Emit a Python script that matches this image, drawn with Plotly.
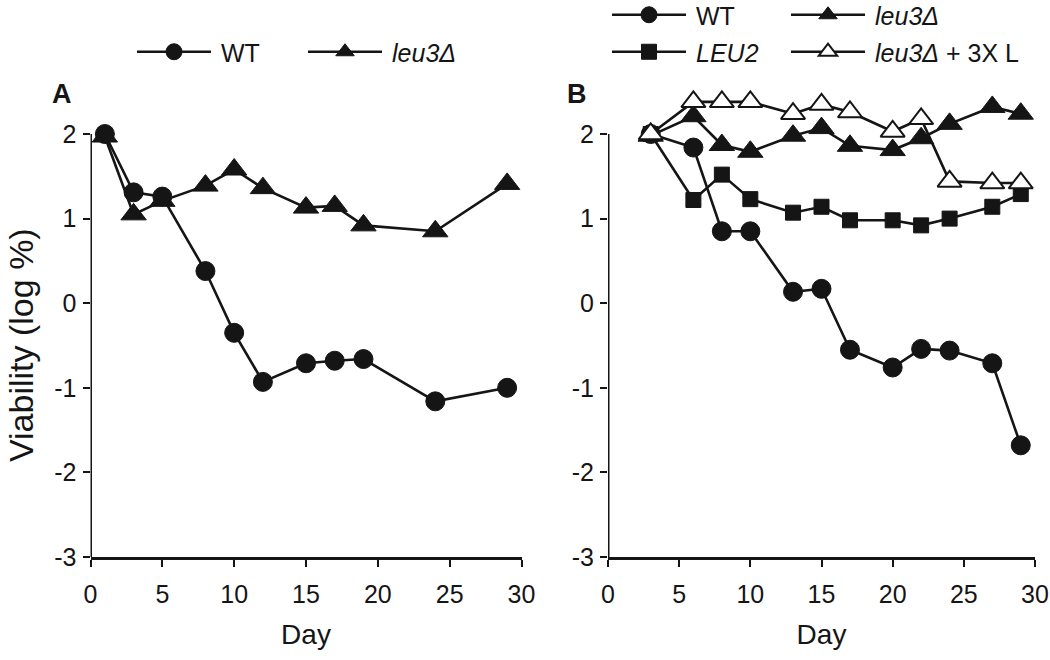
import plotly.graph_objects as go

# panel A
days_a = [1, 3, 5, 8, 10, 12, 15, 17, 19, 24, 29]
wt_a = [2.0, 1.31, 1.26, 0.38, -0.35, -0.93, -0.71, -0.68, -0.66, -1.16, -1.0]
leu3_a = [1.97, 1.05, 1.21, 1.39, 1.58, 1.36, 1.13, 1.15, 0.92, 0.85, 1.41]

# panel B
days_b = [3, 6, 8, 10, 13, 15, 17, 20, 22, 24, 27, 29]
wt_b = [2.0, 1.84, 0.85, 0.85, 0.135, 0.17, -0.55, -0.76, -0.54, -0.56, -0.71, -1.68]
leu3_b = [1.98, 2.21, 1.87, 1.79, 1.98, 2.07, 1.86, 1.81, 1.95, 2.12, 2.32, 2.24]
leu2_b = [2.0, 1.22, 1.52, 1.23, 1.07, 1.14, 0.98, 0.98, 0.92, 1.0, 1.14, 1.29]
leu3_3xl_b = [2.0, 2.38, 2.38, 2.38, 2.24, 2.35, 2.26, 2.03, 2.18, 1.44, 1.42, 1.42]

x_ticks = [0, 5, 10, 15, 20, 25, 30]
y_ticks = [-3, -2, -1, 0, 1, 2]
y_labels = ['-3', '-2', '-1', '0', '1', '2']

INK = '#151515'
FONT = 'Liberation Sans, Arial, sans-serif'
W, H = 1050, 660

# y axis: -3 sits at 557 px, 2 at 134 px; range runs a bit above 2 so that
# markers over 2 stay visible, the axis line itself stops at 2
Y_LO, Y_HI, Y_TOP = -3, 2, 2.5
PX_LO, PX_HI = 557, 134
px_top = PX_LO - (PX_LO - PX_HI) * (Y_TOP - Y_LO) / (Y_HI - Y_LO)


def px_x(p):
    return p / W


def px_y(p):
    return 1 - p / H


def line_trace(x, y, name, symbol, size, fill, xa, ya, legend):
    return go.Scatter(
        x=x, y=y, name='\u2009' + name, mode='lines+markers', xaxis=xa, yaxis=ya,
        legend=legend, showlegend=True, cliponaxis=False,
        line=dict(color=INK, width=2.6),
        marker=dict(symbol=symbol, size=size, color=fill,
                    line=dict(color=INK, width=2 if fill == 'white' else 1)))


fig = go.Figure()
fig.add_trace(line_trace(days_a, wt_a, 'WT', 'circle', 19, INK, 'x', 'y', 'legend'))
fig.add_trace(line_trace(days_a, leu3_a, '<i>leu3Δ</i>', 'triangle-up', 22, INK, 'x', 'y', 'legend2'))

fig.add_trace(line_trace(days_b, wt_b, 'WT', 'circle', 19, INK, 'x2', 'y2', 'legend3'))
fig.add_trace(line_trace(days_b, leu3_b, '<i>leu3Δ</i>', 'triangle-up', 22, INK, 'x2', 'y2', 'legend4'))
fig.add_trace(line_trace(days_b, leu2_b, '<i>LEU2</i>', 'square', 15, INK, 'x2', 'y2', 'legend5'))
fig.add_trace(line_trace(days_b, leu3_3xl_b, '<i>leu3Δ</i> + 3X L', 'triangle-up', 21, 'white',
                         'x2', 'y2', 'legend6'))

axis_common = dict(linecolor=INK, linewidth=3, ticks='outside',
                   ticklen=7, tickwidth=2, tickcolor=INK, showgrid=False,
                   zeroline=False, automargin=False,
                   tickfont=dict(family=FONT, size=25, color=INK))

y_dom = [px_y(PX_LO), px_y(px_top)]
xa = dict(axis_common, showline=True, range=[0, 30], tickvals=x_ticks, ticklabelstandoff=6,
          title=dict(text='Day', font=dict(family=FONT, size=28, color=INK), standoff=18))
ya = dict(axis_common, showline=False, range=[Y_LO, Y_TOP], tickvals=y_ticks, ticktext=y_labels,
          ticklabelstandoff=1)

fig.update_layout(
    width=W, height=H, margin=dict(l=0, r=0, t=0, b=0, autoexpand=False),
    plot_bgcolor='white', paper_bgcolor='white', showlegend=True,
    font=dict(family=FONT, color=INK),
    xaxis=dict(xa, domain=[px_x(90.5), px_x(521.5)], anchor='y'),
    yaxis=dict(ya, domain=y_dom, anchor='x'),
    xaxis2=dict(xa, domain=[px_x(608), px_x(1035)], anchor='y2'),
    yaxis2=dict(ya, domain=y_dom, anchor='x2'),
)

# y axis lines from -3 up to 2
for xr, yr in [('x', 'y'), ('x2', 'y2')]:
    fig.add_shape(type='line', xref=xr, yref=yr, x0=0, x1=0, y0=Y_LO, y1=Y_HI,
                  line=dict(color=INK, width=3))

# one legend box per entry, placed where the reference has it
legend_common = dict(orientation='h', xanchor='left', yanchor='middle', visible=True,
                     bgcolor='rgba(0,0,0,0)', itemwidth=74,
                     font=dict(family=FONT, size=25, color=INK), itemclick=False)
legend_spots = {'legend': (138, 52), 'legend2': (309, 52),
                'legend3': (613, 15), 'legend4': (792, 15),
                'legend5': (613, 52), 'legend6': (792, 52)}
fig.update_layout({k: dict(legend_common, x=px_x(x - 6), y=px_y(y))
                   for k, (x, y) in legend_spots.items()})

# y title sits a little lower than the middle of the axis
fig.add_annotation(text='Viability (log %)', x=px_x(21), y=px_y(345), xref='paper', yref='paper',
                   xanchor='center', yanchor='middle', textangle=-90, showarrow=False,
                   font=dict(family=FONT, size=34, color=INK))

for text, x in [('A', 62), ('B', 577)]:
    fig.add_annotation(text='<b>%s</b>' % text, x=px_x(x), y=px_y(94), xref='paper', yref='paper',
                       xanchor='center', yanchor='middle', showarrow=False,
                       font=dict(family=FONT, size=27, color=INK))

# the page body has an 8px default margin; drop it so the figure sits at 0,0
fig.write_html('out.html', config={'displayModeBar': False},
               post_script="document.body.style.margin = '0px';")
